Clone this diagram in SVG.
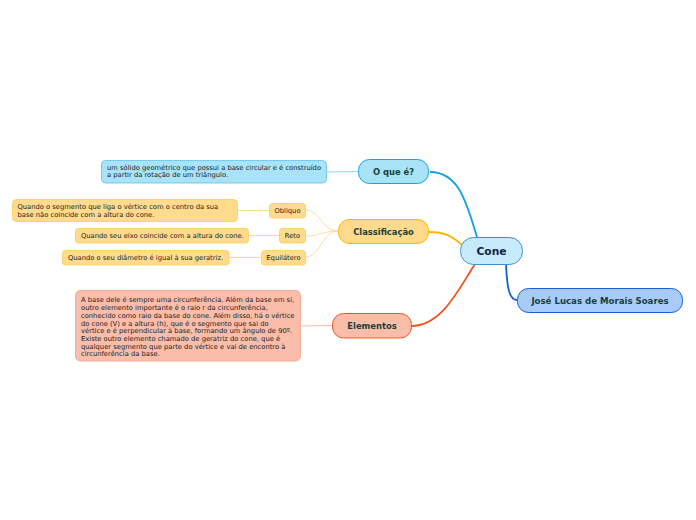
<svg xmlns="http://www.w3.org/2000/svg" width="696" height="520" viewBox="0 0 696 520">
<style>
text{font-family:"DejaVu Sans",Verdana,sans-serif;}
.t{font-size:6.75px;fill:#222;}
.b{font-weight:bold;fill:#17403a;}
.blue{fill:#a9e3f8;stroke:#1ca2e3;stroke-width:1;}
.bluel{fill:#a9e3f8;stroke:#5cc3f0;stroke-width:0.8;}
.org{fill:#ffda8c;stroke:#ffb500;stroke-width:1;}
.orgl{fill:#ffdb8d;stroke:#fcca55;stroke-width:0.8;}
.red{fill:#f9bda9;stroke:#f0582a;stroke-width:1;}
.redl{fill:#f9bda9;stroke:#f5a085;stroke-width:0.8;}
</style>
<rect width="696" height="520" fill="#ffffff"/>
<g id="connectors" fill="none">
<path d="M430,172 C458,172 466,200 477,237" stroke="#12a0e2" stroke-width="1.8"/>
<path d="M429,232 C445,232 452,236 462,245" stroke="#ffb400" stroke-width="1.8"/>
<path d="M411,326 C442,326 458,290 475,264" stroke="#f0521f" stroke-width="1.8"/>
<path d="M506,264 C507,290 510,300 517,300" stroke="#155fd6" stroke-width="1.8"/>
<path d="M358,171.5 L327,172" stroke="#8fd6f5" stroke-width="1.2"/>
<path d="M338,231 C322,231 320,210 306,210" stroke="#fdd98a" stroke-width="0.9"/>
<path d="M338,231 C322,231 320,236 306,236" stroke="#fdd98a" stroke-width="0.9"/>
<path d="M338,231 C322,231 320,257 306,257" stroke="#fdd98a" stroke-width="0.9"/>
<path d="M269,210.5 L238,210.5" stroke="#fdd98a" stroke-width="1"/>
<path d="M280,235.5 L249,235.5" stroke="#fdd98a" stroke-width="1"/>
<path d="M261,257.5 L229,257.5" stroke="#fdd98a" stroke-width="1"/>
<path d="M332,325.5 L301,326" stroke="#f9bda9" stroke-width="1.2"/>
</g>
<g id="cone">
<rect x="460.5" y="237.5" width="62" height="27" rx="13" fill="#c8ebfc" stroke="#3c8fd2" stroke-width="1"/>
<text x="491.5" y="255" font-size="10.7" font-weight="bold" fill="#0f2446" text-anchor="middle">Cone</text>
</g>
<g id="jose">
<rect x="517.5" y="288.5" width="165" height="24" rx="11" fill="#a8cbfb" stroke="#1a5fd6" stroke-width="1"/>
<text x="600" y="303.6" font-size="8.6" class="b" text-anchor="middle">José Lucas de Morais Soares</text>
</g>
<g id="oque">
<rect x="358.5" y="159.5" width="70" height="24" rx="11" class="blue"/>
<text x="393.5" y="174.5" font-size="8.4" class="b" text-anchor="middle">O que é?</text>
</g>
<g id="oque-desc">
<rect x="101.5" y="160.5" width="225" height="22.5" rx="4" class="bluel"/>
<text class="t" x="107" y="169.7">um sólido geométrico que possui a base circular e é construído</text>
<text class="t" x="107" y="177.4">a partir da rotação de um triângulo.</text>
</g>
<g id="classificacao">
<rect x="338.5" y="219.5" width="90" height="24" rx="11" class="org"/>
<text x="383.5" y="234.5" font-size="8.4" class="b" text-anchor="middle">Classificação</text>
</g>
<g id="obliquo">
<rect x="269.5" y="203.5" width="36" height="14.5" rx="3" class="orgl"/>
<text class="t" x="287.5" y="213" text-anchor="middle">Obliquo</text>
</g>
<g id="obliquo-desc">
<rect x="12.5" y="199.5" width="225" height="22" rx="4" class="orgl"/>
<text class="t" x="17.5" y="208.5">Quando o segmento que liga o vértice com o centro da sua</text>
<text class="t" x="17.5" y="216.7">base não coincide com a altura do cone.</text>
</g>
<g id="reto">
<rect x="279.5" y="228.5" width="26" height="14.5" rx="3" class="orgl"/>
<text class="t" x="292.5" y="238.2" text-anchor="middle">Reto</text>
</g>
<g id="reto-desc">
<rect x="75.5" y="228.5" width="173" height="14.5" rx="3" class="orgl"/>
<text class="t" x="81" y="238.4">Quando seu eixo coincide com a altura do cone.</text>
</g>
<g id="equilatero">
<rect x="261.5" y="250.5" width="44" height="14.5" rx="3" class="orgl"/>
<text class="t" x="283.5" y="260.2" text-anchor="middle">Equilátero</text>
</g>
<g id="equilatero-desc">
<rect x="62.5" y="250.5" width="166.5" height="14.5" rx="3" class="orgl"/>
<text class="t" x="68" y="260.2">Quando o seu diâmetro é igual à sua geratriz.</text>
</g>
<g id="elementos">
<rect x="332.5" y="313.5" width="79" height="24.5" rx="11" class="red"/>
<text x="372" y="328.8" font-size="8.4" class="b" text-anchor="middle">Elementos</text>
</g>
<g id="elementos-desc">
<rect x="75.5" y="290.5" width="225" height="70.5" rx="5" class="redl"/>
<text class="t" x="81" y="302.4">A base dele é sempre uma circunferência. Além da base em si,</text>
<text class="t" x="81" y="310.1">outro elemento importante é o raio r da circunferência,</text>
<text class="t" x="81" y="317.8">conhecido como raio da base do cone. Além disso, há o vértice</text>
<text class="t" x="81" y="325.5">do cone (V) e a altura (h), que é o segmento que sai do</text>
<text class="t" x="81" y="333.2">vértice e é perpendicular à base, formando um ângulo de 90º.</text>
<text class="t" x="81" y="340.9">Existe outro elemento chamado de geratriz do cone, que é</text>
<text class="t" x="81" y="348.6">qualquer segmento que parte do vértice e vai de encontro à</text>
<text class="t" x="81" y="356.3">circunferência da base.</text>
</g>
</svg>
